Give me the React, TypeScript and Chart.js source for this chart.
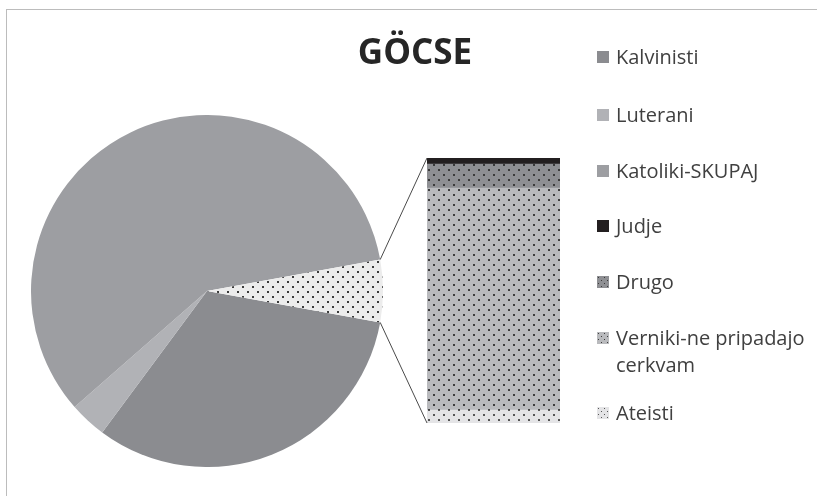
import React, { useEffect, useRef, useMemo } from "react";
import { Chart, registerables } from "chart.js";
Chart.register(...registerables);

// ---- data ----
const TITLE = "GÖCSE";
const mainLabels = ["Kalvinisti", "Luterani", "Katoliki-SKUPAJ"];
const mainValues = [32.3, 3.4, 58.6];
const detailLabels = ["Judje", "Drugo", "Verniki-ne pripadajo cerkvam", "Ateisti"];
const detailValues = [0.13, 0.52, 4.78, 0.28];
const otherLabel = "Ostali";

// ---- styles ----
const mainColors = ["#8b8c90", "#b1b2b6", "#9d9ea2"];
const detailFills: { bg: string; dot: string | null }[] = [
  { bg: "#231f20", dot: null },
  { bg: "#8e8f93", dot: "#3a3a3a" },
  { bg: "#b9babd", dot: "#3c3c3c" },
  { bg: "#e4e4e6", dot: "#555555" },
];
const otherFill = { bg: "#ececec", dot: "#3a3a3a" };
const legendY = [57, 115, 171, 226, 282, 338, 413];

const W = 817;
const H = 496;
const PIE = { left: 31, top: 115, size: 352 };
const BAR = { left: 427, top: 158, w: 133, h: 265 };

function tile(bg: string, dot: string | null, size: number, d: number) {
  const c = document.createElement("canvas");
  c.width = size;
  c.height = size;
  const x = c.getContext("2d")!;
  x.fillStyle = bg;
  x.fillRect(0, 0, size, size);
  if (dot) {
    x.fillStyle = dot;
    const h = size / 2;
    x.fillRect(1, 1, d, d);
    x.fillRect(1 + h, 1 + h, d, d);
  }
  return c;
}

export default function App() {
  const pieRef = useRef<HTMLCanvasElement>(null);
  const barRef = useRef<HTMLCanvasElement>(null);
  const lineRef = useRef<HTMLCanvasElement>(null);

  const legendItems = useMemo(() => {
    const items: { label: string; bg: string; img: string | null }[] = [];
    mainLabels.forEach((l, i) => items.push({ label: l, bg: mainColors[i], img: null }));
    detailLabels.forEach((l, i) => {
      const f = detailFills[i];
      items.push({
        label: l,
        bg: f.bg,
        img: f.dot ? tile(f.bg, f.dot, 6, 1).toDataURL() : null,
      });
    });
    return items;
  }, []);

  useEffect(() => {
    const otherTotal = detailValues.reduce((a, b) => a + b, 0);
    const total = mainValues.reduce((a, b) => a + b, 0) + otherTotal;

    const pctx = pieRef.current!.getContext("2d")!;
    const otherPattern = pctx.createPattern(tile(otherFill.bg, otherFill.dot, 10, 2), "repeat")!;
    const pie = new Chart(pieRef.current!, {
      type: "pie",
      data: {
        labels: [...mainLabels, otherLabel],
        datasets: [
          {
            data: [...mainValues, otherTotal],
            backgroundColor: [...mainColors, otherPattern] as any,
            borderWidth: 0,
          },
        ],
      },
      options: {
        responsive: false,
        animation: false,
        devicePixelRatio: 1,
        rotation: 90 + (otherTotal / total) * 180,
        layout: { padding: 0 },
        events: [],
        plugins: {
          legend: { display: false },
          tooltip: { enabled: false },
          title: { display: false },
        },
      },
    });

    const bctx = barRef.current!.getContext("2d")!;
    const order = [3, 2, 1, 0]; // bottom to top
    const bar = new Chart(barRef.current!, {
      type: "bar",
      data: {
        labels: [otherLabel],
        datasets: order.map((i) => ({
          label: detailLabels[i],
          data: [detailValues[i]],
          backgroundColor: (detailFills[i].dot
            ? bctx.createPattern(tile(detailFills[i].bg, detailFills[i].dot, 10, 2), "repeat")
            : detailFills[i].bg) as any,
          borderWidth: 0,
          barPercentage: 1,
          categoryPercentage: 1,
        })),
      },
      options: {
        responsive: false,
        animation: false,
        devicePixelRatio: 1,
        layout: { padding: 0 },
        events: [],
        scales: {
          x: { stacked: true, display: false },
          y: { stacked: true, display: false, min: 0, max: otherTotal },
        },
        plugins: { legend: { display: false }, tooltip: { enabled: false } },
      },
    });

    // connector lines
    const arc: any = pie.getDatasetMeta(0).data[3];
    const a = arc.getProps(["x", "y", "startAngle", "endAngle", "outerRadius"], true);
    const topEl: any = bar.getDatasetMeta(order.length - 1).data[0];
    const botEl: any = bar.getDatasetMeta(0).data[0];
    const t = topEl.getProps(["x", "y", "width"], true);
    const b = botEl.getProps(["base"], true);
    const p1 = {
      x: PIE.left + a.x + a.outerRadius * Math.cos(a.startAngle),
      y: PIE.top + a.y + a.outerRadius * Math.sin(a.startAngle),
    };
    const p2 = {
      x: PIE.left + a.x + a.outerRadius * Math.cos(a.endAngle),
      y: PIE.top + a.y + a.outerRadius * Math.sin(a.endAngle),
    };
    const bl = BAR.left + t.x - t.width / 2;
    const q1 = { x: bl, y: BAR.top + t.y };
    const q2 = { x: bl, y: BAR.top + b.base };
    const lctx = lineRef.current!.getContext("2d")!;
    lctx.clearRect(0, 0, W, H);
    lctx.strokeStyle = "#4a4a4a";
    lctx.lineWidth = 1;
    lctx.beginPath();
    lctx.moveTo(p1.x, p1.y);
    lctx.lineTo(q1.x, q1.y);
    lctx.moveTo(p2.x, p2.y);
    lctx.lineTo(q2.x, q2.y);
    lctx.stroke();

    return () => {
      pie.destroy();
      bar.destroy();
    };
  }, []);

  return (
    <div
      style={{
        position: "absolute",
        left: 0,
        top: 0,
        width: W,
        height: H,
        background: "#ffffff",
        overflow: "hidden",
        fontFamily: "'Open Sans', 'Noto Sans', sans-serif",
      }}
    >
      <div
        style={{
          position: "absolute",
          left: 6,
          top: 9,
          width: W,
          height: H,
          borderLeft: "1px solid #bcbcbc",
          borderTop: "1px solid #bcbcbc",
        }}
      />
      <canvas
        ref={pieRef}
        width={PIE.size}
        height={PIE.size}
        style={{ position: "absolute", left: PIE.left, top: PIE.top, width: PIE.size, height: PIE.size }}
      />
      <canvas
        ref={barRef}
        width={BAR.w}
        height={BAR.h}
        style={{ position: "absolute", left: BAR.left, top: BAR.top, width: BAR.w, height: BAR.h }}
      />
      <canvas
        ref={lineRef}
        width={W}
        height={H}
        style={{ position: "absolute", left: 0, top: 0, width: W, height: H, pointerEvents: "none" }}
      />
      <div
        style={{
          position: "absolute",
          left: 415,
          top: 33,
          transform: "translateX(-50%)",
          fontSize: 35,
          lineHeight: "35px",
          fontWeight: 700,
          color: "#262626",
          whiteSpace: "nowrap",
        }}
      >
        {TITLE}
      </div>
      {legendItems.map((it, i) => (
        <div
          key={it.label}
          style={{
            position: "absolute",
            left: 597,
            top: legendY[i] - 14,
            width: 218,
          }}
        >
          <div
            style={{
              position: "absolute",
              left: 0,
              top: 8,
              width: 12,
              height: 12,
              backgroundColor: it.bg,
              backgroundImage: it.img ? `url(${it.img})` : undefined,
            }}
          />
          <div
            style={{
              marginLeft: 19,
              fontSize: 20,
              lineHeight: "27px",
              color: "#404040",
              width: 199,
            }}
          >
            {it.label}
          </div>
        </div>
      ))}
    </div>
  );
}
